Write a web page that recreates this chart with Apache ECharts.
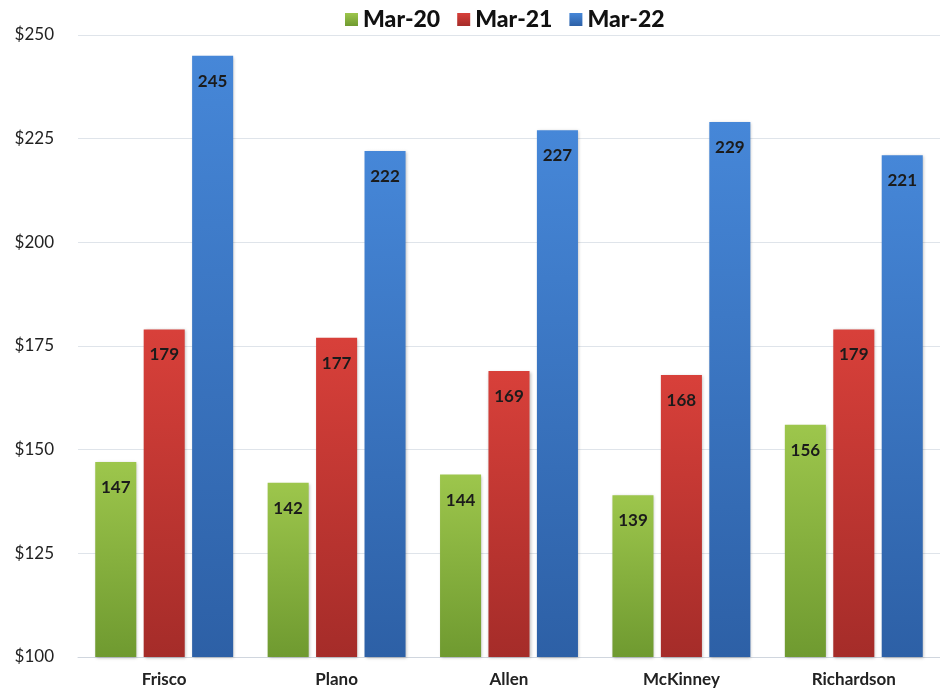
<!DOCTYPE html>
<html>
<head>
<meta charset="utf-8">
<script src="https://cdn.jsdelivr.net/npm/echarts@6/dist/echarts.min.js"></script>
<style>
  html, body { margin: 0; padding: 0; background: #fff; }
  #chart { width: 940px; height: 696px; }
</style>
</head>
<body>
<div id="chart"></div>
<script>
const cities = ['Frisco', 'Plano', 'Allen', 'McKinney', 'Richardson'];
const mar20 = [147, 142, 144, 139, 156];
const mar21 = [179, 177, 169, 168, 179];
const mar22 = [245, 222, 227, 229, 221];

const fontFamily = 'Lato, "Open Sans", sans-serif';

function gradient(top, bottom) {
    return new echarts.graphic.LinearGradient(0, 0, 0, 1, [
        { offset: 0, color: top },
        { offset: 1, color: bottom }
    ]);
}

function makeSeries(name, values, top, bottom) {
    return {
        name: name,
        type: 'bar',
        data: values,
        barGap: '18%',
        barCategoryGap: '20%',
        itemStyle: {
            color: gradient(top, bottom),
            shadowColor: 'rgba(0,0,0,0.25)',
            shadowBlur: 3,
            shadowOffsetX: 1,
            shadowOffsetY: 1
        },
        label: {
            show: true,
            position: 'insideTop',
            distance: 17,
            color: '#1b1b1b',
            fontWeight: 'bold',
            fontSize: 17,
            fontFamily: fontFamily
        }
    };
}

const chart = echarts.init(document.getElementById('chart'));
chart.setOption({
    backgroundColor: '#ffffff',
    animation: false,
    legend: {
        top: 3,
        left: 340,
        itemWidth: 13,
        itemHeight: 13,
        itemGap: 17,
        textStyle: { fontSize: 23, fontWeight: 900, color: '#111', fontFamily: fontFamily },
        data: [
            { name: 'Mar-20', icon: 'rect' },
            { name: 'Mar-21', icon: 'rect' },
            { name: 'Mar-22', icon: 'rect' }
        ]
    },
    grid: { left: 78, right: 0, top: 35, bottom: 39 },
    xAxis: {
        type: 'category',
        data: cities,
        axisLine: { lineStyle: { color: '#d0d6de' } },
        axisTick: { show: false },
        axisLabel: { fontSize: 17, fontWeight: 'bold', color: '#222', fontFamily: fontFamily, margin: 14 }
    },
    yAxis: {
        type: 'value',
        min: 100,
        max: 250,
        interval: 25,
        axisLine: { show: false },
        axisTick: { show: false },
        splitLine: { lineStyle: { color: '#dfe4ea' } },
        axisLabel: {
            fontSize: 17,
            color: '#222',
            fontFamily: fontFamily,
            margin: 24,
            formatter: v => '$' + v
        }
    },
    series: [
        makeSeries('Mar-20', mar20, '#9dc64c', '#6f9a30'),
        makeSeries('Mar-21', mar21, '#d8403a', '#a52c29'),
        makeSeries('Mar-22', mar22, '#4687d8', '#2d60a6')
    ]
});
</script>
</body>
</html>
